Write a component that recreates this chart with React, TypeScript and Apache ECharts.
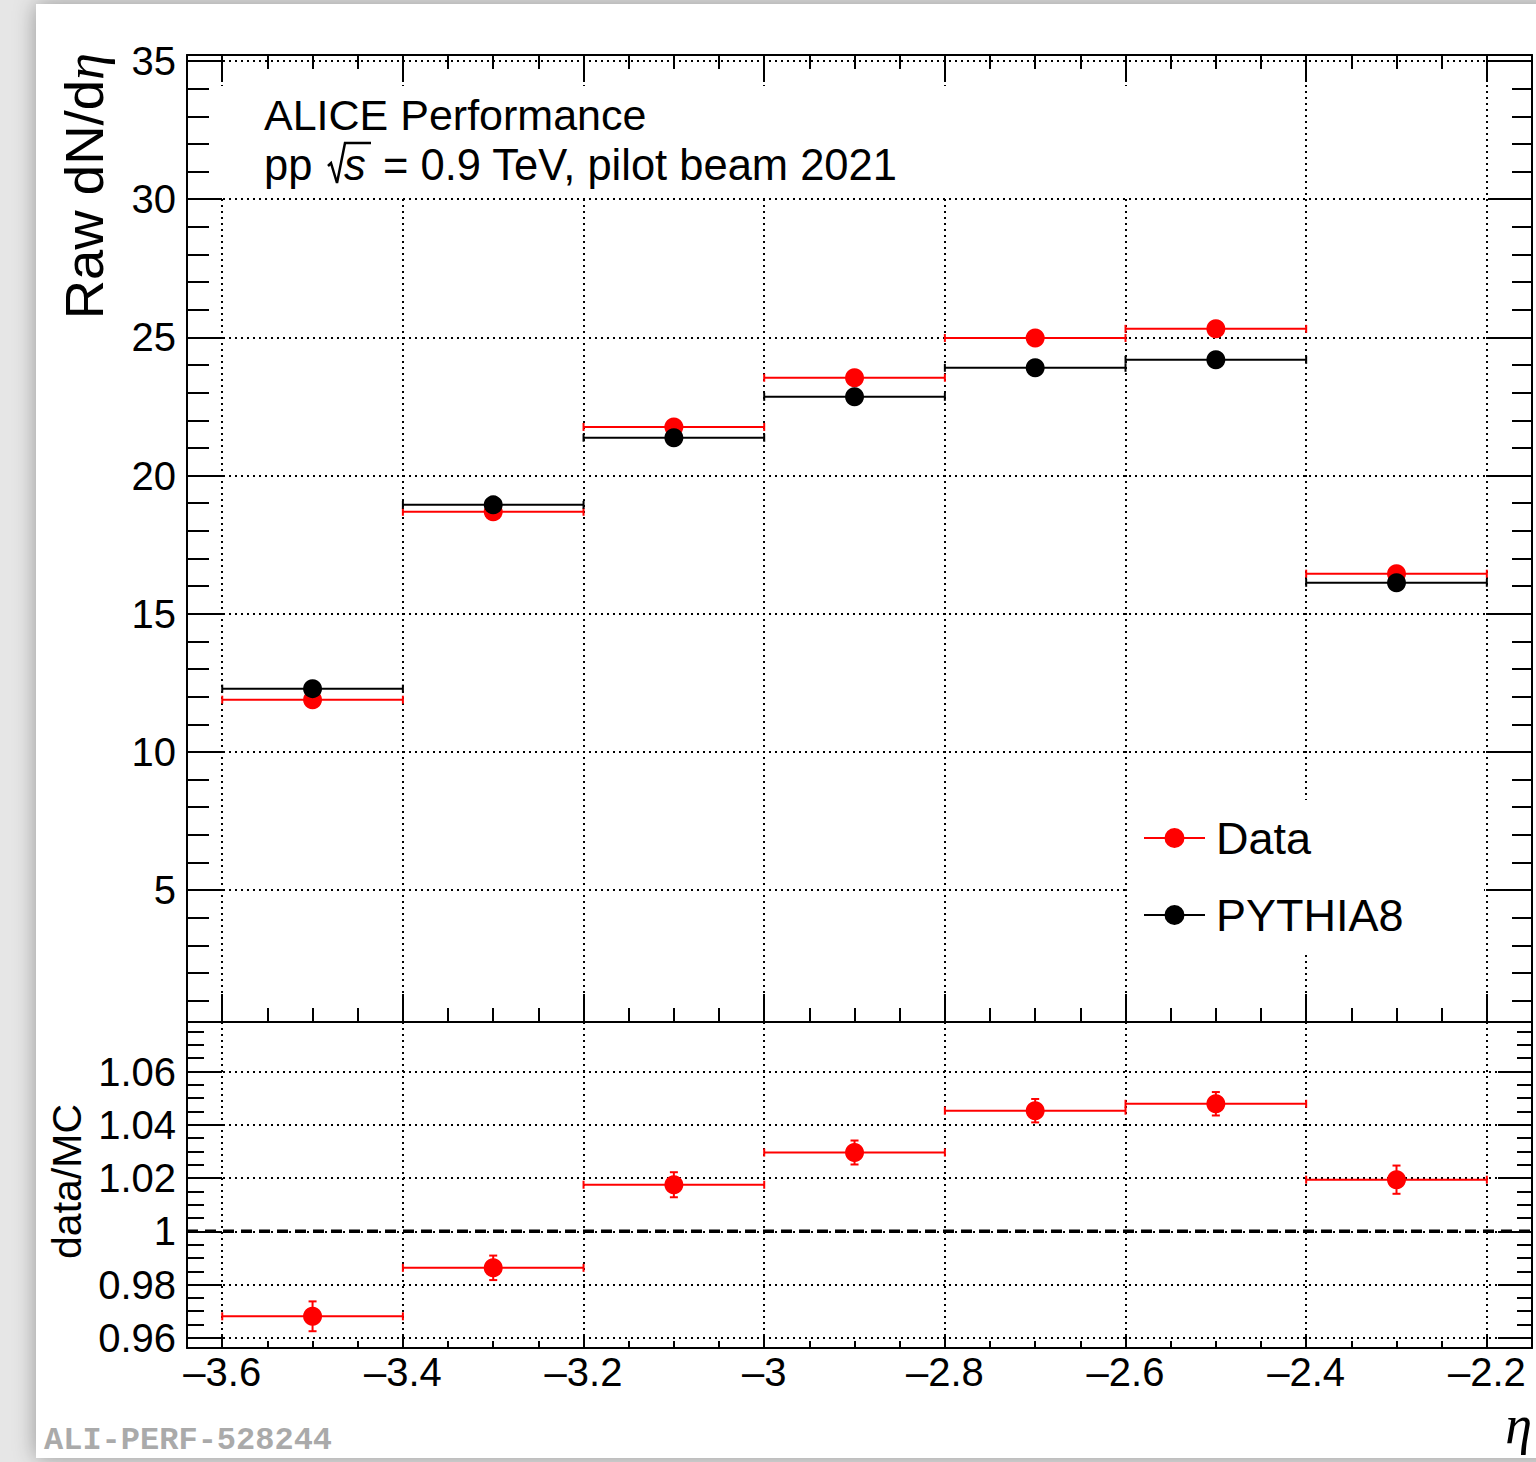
import React, { useEffect, useRef } from 'react';
import * as echarts from 'echarts';

// ---- data ----
const binLow = [-3.6, -3.4, -3.2, -3.0, -2.8, -2.6, -2.4];
const binHigh = [-3.4, -3.2, -3.0, -2.8, -2.6, -2.4, -2.2];
const dataValues = [11.89, 18.69, 21.76, 23.54, 24.98, 25.31, 16.45];
const mcValues = [12.29, 18.94, 21.37, 22.85, 23.9, 24.19, 16.12];
const ratioValues = [0.9681, 0.9863, 1.0175, 1.0296, 1.0453, 1.0479, 1.0194];
const ratioErrors = [0.0056, 0.0046, 0.0047, 0.0045, 0.0044, 0.0044, 0.0053];
const unityLevel = 1;

const X_RANGE = [-3.639, -2.15];
const Y_TOP_RANGE = [0.226, 35.22];
const Y_RATIO_RANGE = [0.9562, 1.0786];

const SANS = "'Liberation Sans', Arial, Helvetica, sans-serif";
const SERIF = "'Liberation Serif', 'Times New Roman', serif";
const MONO = "'Liberation Mono', 'Courier New', monospace";

function fmt(v: number): string {
  return String(Number(v.toFixed(3))).replace('-', '\u2013');
}

const BLACK = '#000000';
const RED = '#ff0000';

const dotted = { show: true, lineStyle: { color: BLACK, width: 2, type: [2, 4] as any } };
const axisLine = { show: true, onZero: false, lineStyle: { color: BLACK, width: 2 } };

function tick(len: number) {
  return { show: true, inside: true, length: len, lineStyle: { color: BLACK, width: 2 } };
}
function minor(len: number, n: number) {
  return { show: true, splitNumber: n, length: len, lineStyle: { color: BLACK, width: 2 } };
}

function binRenderer(color: string, withErr: boolean) {
  return (params: any, api: any) => {
    const lo = api.value(0);
    const hi = api.value(1);
    const v = api.value(2);
    const e = api.value(3);
    const a = api.coord([lo, v]);
    const b = api.coord([hi, v]);
    const st = { stroke: color, lineWidth: 2 };
    const children: any[] = [
      { type: 'line', shape: { x1: a[0], y1: a[1], x2: b[0], y2: b[1] }, style: st },
      { type: 'line', shape: { x1: a[0], y1: a[1] - 4, x2: a[0], y2: a[1] + 4 }, style: st },
      { type: 'line', shape: { x1: b[0], y1: b[1] - 4, x2: b[0], y2: b[1] + 4 }, style: st },
    ];
    if (withErr && e > 0) {
      const c = (lo + hi) / 2;
      const t = api.coord([c, v + e]);
      const d = api.coord([c, v - e]);
      children.push(
        { type: 'line', shape: { x1: t[0], y1: t[1], x2: d[0], y2: d[1] }, style: st },
        { type: 'line', shape: { x1: t[0] - 4, y1: t[1], x2: t[0] + 4, y2: t[1] }, style: st },
        { type: 'line', shape: { x1: d[0] - 4, y1: d[1], x2: d[0] + 4, y2: d[1] }, style: st }
      );
    }
    return { type: 'group', children };
  };
}

function unityRenderer(params: any, api: any) {
  const a = api.coord([api.value(0), api.value(2)]);
  const b = api.coord([api.value(1), api.value(2)]);
  return {
    type: 'line',
    shape: { x1: a[0], y1: a[1], x2: b[0], y2: b[1] },
    style: { stroke: BLACK, lineWidth: 3.5, lineDash: [11, 7] },
  };
}

const LEGEND_ICON =
  'path://M0,9H21V11H0Z M40,9H61V11H40Z M20.5,10A10,10 0 1 1 40.5,10A10,10 0 1 1 20.5,10Z';

export default function App() {
  const ref = useRef<HTMLDivElement>(null);

  useEffect(() => {
    if (!ref.current) return;
    const chart = echarts.init(ref.current, null, { renderer: 'svg' });

    const xCommon = {
      type: 'value',
      min: X_RANGE[0],
      max: X_RANGE[1],
      minInterval: 0.2,
      maxInterval: 0.2,
      splitNumber: 7,
    };

    const option: any = {
      animation: false,
      backgroundColor: '#e6e6e6',
      grid: [
        { left: 187, right: 4, top: 55, height: 967, outerBoundsMode: 'none', containLabel: false },
        { left: 187, right: 4, top: 1022, height: 326, outerBoundsMode: 'none', containLabel: false },
      ],
      xAxis: [
        {
          ...xCommon,
          gridIndex: 0,
          position: 'bottom',
          axisLine,
          axisTick: tick(28),
          minorTick: minor(14, 4),
          axisLabel: { show: false },
          splitLine: { show: false },
          z: 10,
        },
        {
          ...xCommon,
          gridIndex: 0,
          position: 'top',
          axisLine,
          axisTick: tick(27),
          minorTick: minor(14, 4),
          axisLabel: { show: false },
          splitLine: dotted,
          z: 0,
        },
        {
          ...xCommon,
          gridIndex: 1,
          position: 'bottom',
          axisLine,
          axisTick: tick(14),
          minorTick: minor(7, 4),
          axisLabel: {
            show: true,
            fontSize: 40,
            fontFamily: SANS,
            color: BLACK,
            margin: 4,
            formatter: fmt,
            showMinLabel: false,
            showMaxLabel: false,
          },
          splitLine: dotted,
          z: 0,
        },
      ],
      yAxis: [
        {
          type: 'value',
          gridIndex: 0,
          position: 'left',
          min: Y_TOP_RANGE[0],
          max: Y_TOP_RANGE[1],
          minInterval: 5,
          maxInterval: 5,
          splitNumber: 7,
          axisLine,
          axisTick: tick(35),
          minorTick: minor(22, 5),
          axisLabel: {
            show: true,
            fontSize: 40,
            fontFamily: SANS,
            color: BLACK,
            margin: 11,
            formatter: fmt,
            showMinLabel: false,
            showMaxLabel: false,
          },
          splitLine: { show: false },
          z: 10,
        },
        {
          type: 'value',
          gridIndex: 0,
          position: 'right',
          min: Y_TOP_RANGE[0],
          max: Y_TOP_RANGE[1],
          minInterval: 5,
          maxInterval: 5,
          splitNumber: 7,
          axisLine,
          axisTick: tick(44),
          minorTick: minor(20, 5),
          axisLabel: { show: false },
          splitLine: dotted,
          z: 0,
        },
        {
          type: 'value',
          gridIndex: 1,
          position: 'left',
          min: Y_RATIO_RANGE[0],
          max: Y_RATIO_RANGE[1],
          minInterval: 0.02,
          maxInterval: 0.02,
          splitNumber: 6,
          axisLine,
          axisTick: tick(35),
          minorTick: minor(17, 4),
          axisLabel: {
            show: true,
            fontSize: 40,
            fontFamily: SANS,
            color: BLACK,
            margin: 11,
            formatter: fmt,
            showMinLabel: false,
            showMaxLabel: false,
          },
          splitLine: dotted,
          z: 0,
        },
        {
          type: 'value',
          gridIndex: 1,
          position: 'right',
          min: Y_RATIO_RANGE[0],
          max: Y_RATIO_RANGE[1],
          minInterval: 0.02,
          maxInterval: 0.02,
          splitNumber: 6,
          axisLine,
          axisTick: tick(34),
          minorTick: minor(15, 4),
          axisLabel: { show: false },
          splitLine: { show: false },
          z: 0,
        },
      ],
      legend: {
        orient: 'vertical',
        left: 1139,
        top: 810,
        padding: 5,
        itemWidth: 61,
        itemHeight: 20,
        itemGap: 31,
        selectedMode: false,
        textStyle: { fontSize: 45, lineHeight: 46, fontFamily: SANS, color: BLACK, padding: [0, 0, 0, 6] },
        data: [
          { name: 'Data', icon: LEGEND_ICON },
          { name: 'PYTHIA8', icon: LEGEND_ICON },
        ],
        z: 12,
      },
      graphic: [
        {
          type: 'rect',
          z: -10,
          silent: true,
          shape: { x: 36, y: 4, width: 1530, height: 1454 },
          style: { fill: '#ffffff', shadowBlur: 22, shadowColor: 'rgba(0,0,0,0.35)' },
        },
        { type: 'rect', z: 1, silent: true, shape: { x: 215, y: 86, width: 985, height: 111 }, style: { fill: '#ffffff' } },
        { type: 'rect', z: 1, silent: true, shape: { x: 1128, y: 800, width: 356, height: 153 }, style: { fill: '#ffffff' } },
        {
          type: 'text',
          z: 12,
          x: 264,
          y: 115,
          style: { text: 'ALICE Performance', fontSize: 43, fontFamily: SANS, fill: BLACK, textAlign: 'left', textVerticalAlign: 'middle' },
        },
        {
          type: 'text',
          z: 12,
          x: 264,
          y: 165,
          style: { text: 'pp', fontSize: 43.5, fontFamily: SANS, fill: BLACK, textAlign: 'left', textVerticalAlign: 'middle' },
        },
        {
          type: 'polyline',
          z: 12,
          shape: { points: [[328, 166], [331, 163], [337, 183], [345, 143], [371, 143]] },
          style: { stroke: BLACK, lineWidth: 2.5, fill: 'none' },
        },
        {
          type: 'text',
          z: 12,
          x: 344,
          y: 165,
          style: { text: 's', fontSize: 43.5, fontFamily: SANS, fontStyle: 'italic', fill: BLACK, textAlign: 'left', textVerticalAlign: 'middle' },
        },
        {
          type: 'text',
          z: 12,
          x: 383,
          y: 165,
          style: { text: '= 0.9 TeV, pilot beam 2021', fontSize: 43.5, fontFamily: SANS, fill: BLACK, textAlign: 'left', textVerticalAlign: 'middle' },
        },
        {
          type: 'text',
          z: 12,
          x: 84,
          y: 53,
          rotation: Math.PI / 2,
          style: {
            text: '{a|Raw dN/d}{b|\u03b7}',
            textAlign: 'right',
            textVerticalAlign: 'middle',
            fill: BLACK,
            rich: {
              a: { fontSize: 54.5, fontFamily: SANS, fill: BLACK },
              b: { fontSize: 54.5, fontFamily: SERIF, fontStyle: 'italic', fill: BLACK },
            },
          },
        },
        {
          type: 'text',
          z: 12,
          x: 67,
          y: 1104,
          rotation: Math.PI / 2,
          style: { text: 'data/MC', fontSize: 41, fontFamily: SANS, fill: BLACK, textAlign: 'right', textVerticalAlign: 'middle' },
        },
        {
          type: 'text',
          z: 12,
          x: 1532,
          y: 1425,
          style: { text: '\u03b7', fontSize: 54, fontFamily: SERIF, fontStyle: 'italic', fill: BLACK, textAlign: 'right', textVerticalAlign: 'middle' },
        },
        {
          type: 'text',
          z: 12,
          x: 44,
          y: 1440,
          style: { text: 'ALI-PERF-528244', fontSize: 32, fontWeight: 'bold', fontFamily: MONO, fill: '#aaaaaa', textAlign: 'left', textVerticalAlign: 'middle' },
        },
      ],
      series: [
        {
          type: 'custom',
          name: 'Data bins',
          xAxisIndex: 0,
          yAxisIndex: 0,
          renderItem: binRenderer(RED, false),
          encode: { x: [0, 1], y: [2] },
          data: binLow.map((lo, i) => [lo, binHigh[i], dataValues[i], 0]),
          silent: true,
          z: 2,
        },
        {
          type: 'scatter',
          name: 'Data',
          xAxisIndex: 0,
          yAxisIndex: 0,
          symbol: 'circle',
          symbolSize: 19,
          itemStyle: { color: RED, opacity: 1 },
          data: binLow.map((lo, i) => [(lo + binHigh[i]) / 2, dataValues[i]]),
          silent: true,
          z: 3,
        },
        {
          type: 'custom',
          name: 'MC bins',
          xAxisIndex: 0,
          yAxisIndex: 0,
          renderItem: binRenderer(BLACK, false),
          encode: { x: [0, 1], y: [2] },
          data: binLow.map((lo, i) => [lo, binHigh[i], mcValues[i], 0]),
          silent: true,
          z: 4,
        },
        {
          type: 'scatter',
          name: 'PYTHIA8',
          xAxisIndex: 0,
          yAxisIndex: 0,
          symbol: 'circle',
          symbolSize: 19,
          itemStyle: { color: BLACK, opacity: 1 },
          data: binLow.map((lo, i) => [(lo + binHigh[i]) / 2, mcValues[i]]),
          silent: true,
          z: 5,
        },
        {
          type: 'custom',
          name: 'Unity',
          xAxisIndex: 2,
          yAxisIndex: 2,
          renderItem: unityRenderer,
          encode: { x: [0, 1], y: [2] },
          data: [[X_RANGE[0], X_RANGE[1], unityLevel]],
          silent: true,
          z: 6,
        },
        {
          type: 'custom',
          name: 'Ratio bins',
          xAxisIndex: 2,
          yAxisIndex: 2,
          renderItem: binRenderer(RED, true),
          encode: { x: [0, 1], y: [2] },
          data: binLow.map((lo, i) => [lo, binHigh[i], ratioValues[i], ratioErrors[i]]),
          silent: true,
          z: 7,
        },
        {
          type: 'scatter',
          name: 'Ratio',
          xAxisIndex: 2,
          yAxisIndex: 2,
          symbol: 'circle',
          symbolSize: 19,
          itemStyle: { color: RED, opacity: 1 },
          data: binLow.map((lo, i) => [(lo + binHigh[i]) / 2, ratioValues[i]]),
          silent: true,
          z: 8,
        },
      ],
    };

    chart.setOption(option);
    return () => chart.dispose();
  }, []);

  return <div ref={ref} style={{ position: 'absolute', left: 0, top: 0, width: 1536, height: 1462 }} />;
}
